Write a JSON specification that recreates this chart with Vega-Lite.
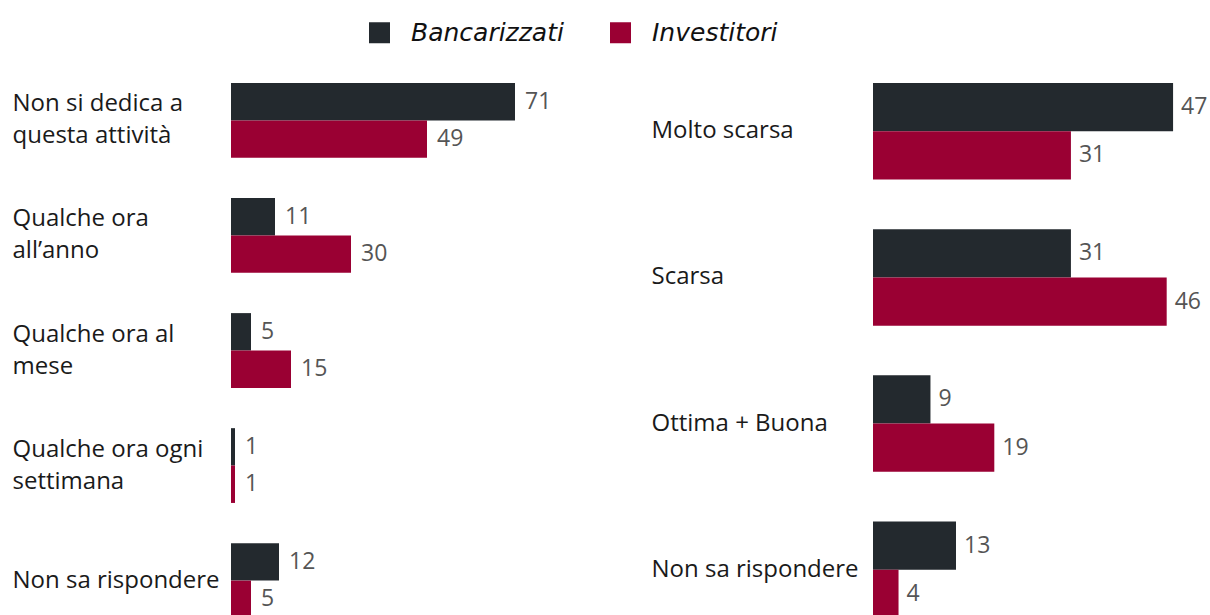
{
  "$schema": "https://vega.github.io/schema/vega-lite/v6.json",
  "padding": {"left": 12, "top": 20, "right": 0, "bottom": 0},
  "spacing": 40,
  "background": "white",
  "config": {"view": {"stroke": null}, "font": "Open Sans"},
  "datasets": {
    "left": [
      {"cat": "Non si dedica a|questa attività", "series": "Bancarizzati", "value": 71},
      {"cat": "Non si dedica a|questa attività", "series": "Investitori", "value": 49},
      {"cat": "Qualche ora|all’anno", "series": "Bancarizzati", "value": 11},
      {"cat": "Qualche ora|all’anno", "series": "Investitori", "value": 30},
      {"cat": "Qualche ora al|mese", "series": "Bancarizzati", "value": 5},
      {"cat": "Qualche ora al|mese", "series": "Investitori", "value": 15},
      {"cat": "Qualche ora ogni|settimana", "series": "Bancarizzati", "value": 1},
      {"cat": "Qualche ora ogni|settimana", "series": "Investitori", "value": 1},
      {"cat": "Non sa rispondere", "series": "Bancarizzati", "value": 12},
      {"cat": "Non sa rispondere", "series": "Investitori", "value": 5}
    ],
    "right": [
      {"cat": "Molto scarsa", "series": "Bancarizzati", "value": 47},
      {"cat": "Molto scarsa", "series": "Investitori", "value": 31},
      {"cat": "Scarsa", "series": "Bancarizzati", "value": 31},
      {"cat": "Scarsa", "series": "Investitori", "value": 46},
      {"cat": "Ottima + Buona", "series": "Bancarizzati", "value": 9},
      {"cat": "Ottima + Buona", "series": "Investitori", "value": 19},
      {"cat": "Non sa rispondere ", "series": "Bancarizzati", "value": 13},
      {"cat": "Non sa rispondere ", "series": "Investitori", "value": 4}
    ]
  },
  "hconcat": [
    {
      "width": 380,
      "height": 535,
      "data": {"name": "left"},
      "encoding": {
        "y": {"field": "cat", "type": "nominal", "sort": null,
          "scale": {"paddingInner": 0.35, "paddingOuter": 0},
          "axis": {"title": null, "domain": false, "ticks": false, "tickSize": 0, "labelAlign": "left", "labelBaseline": "middle", "labelPadding": 219, "labelFontSize": 24, "labelColor": "#1a1a1a", "labelExpr": "split(datum.value, '|')", "labelLineHeight": 32, "labelLimit": 0,
            "labelOffset": {"condition": {"test": "indexof(datum.value, '|') >= 0", "value": -16}, "value": 0}}},
        "yOffset": {"field": "series", "type": "nominal", "sort": ["Bancarizzati", "Investitori"], "scale": {"paddingInner": 0, "paddingOuter": 0}},
        "x": {"field": "value", "type": "quantitative", "scale": {"domain": [0, 95]}, "axis": null}
      },
      "layer": [
        {"mark": {"type": "bar"},
         "encoding": {"color": {"field": "series", "type": "nominal",
           "scale": {"domain": ["Bancarizzati", "Investitori"], "range": ["#23292e", "#9a0033"]},
           "legend": {"orient": "none", "legendX": 136, "legendY": -63, "direction": "horizontal", "title": null, "symbolType": "square", "symbolSize": 441, "symbolStrokeWidth": 0, "symbolOpacity": 1, "labelFont": "DejaVu Sans", "labelFontSize": 25, "labelFontStyle": "italic", "labelColor": "#111111", "columnPadding": 44, "labelOffset": 19, "padding": 0}}}},
        {"mark": {"type": "text", "align": "left", "baseline": "middle", "dx": 10, "fontSize": 23, "color": "#555555"},
         "encoding": {"text": {"field": "value", "type": "quantitative"}}}
      ]
    },
    {
      "width": 332,
      "height": 535,
      "data": {"name": "right"},
      "encoding": {
        "y": {"field": "cat", "type": "nominal", "sort": null,
          "scale": {"paddingInner": 0.34, "paddingOuter": 0},
          "axis": {"title": null, "domain": false, "ticks": false, "tickSize": 0, "labelAlign": "left", "labelBaseline": "middle", "labelPadding": 222, "labelFontSize": 24, "labelColor": "#1a1a1a", "labelLimit": 0}},
        "yOffset": {"field": "series", "type": "nominal", "sort": ["Bancarizzati", "Investitori"], "scale": {"paddingInner": 0, "paddingOuter": 0}},
        "x": {"field": "value", "type": "quantitative", "scale": {"domain": [0, 52]}, "axis": null}
      },
      "layer": [
        {"mark": {"type": "bar"},
         "encoding": {"color": {"field": "series", "type": "nominal"}}},
        {"mark": {"type": "text", "align": "left", "baseline": "middle", "dx": 8, "fontSize": 23, "color": "#555555"},
         "encoding": {"text": {"field": "value", "type": "quantitative"}}}
      ]
    }
  ],
  "resolve": {"scale": {"x": "independent", "y": "independent", "yOffset": "independent"}}
}
